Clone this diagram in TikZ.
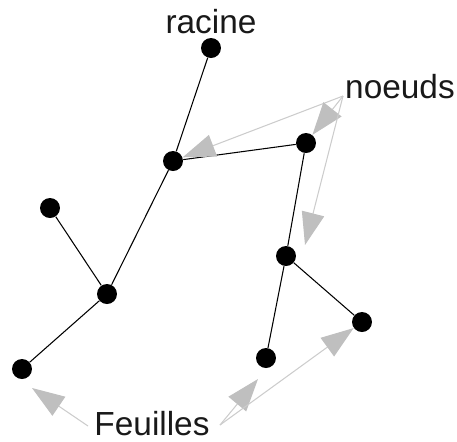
\documentclass[tikz,border=0pt]{standalone}
\usepackage{fontspec}
\setmainfont{Liberation Sans}
\usetikzlibrary{arrows.meta}

\begin{document}
\begin{tikzpicture}[x=0.02cm,y=-0.02cm,
dot/.style={circle,fill=black,inner sep=0pt,minimum size=0.4cm},
edge/.style={black,line width=0.6pt},
legende/.style={anchor=base,inner sep=0pt,text=black!90,font=\fontsize{19}{22}\selectfont},
pointer/.style={draw=black!20,line width=0.6pt,-{Triangle[length=18.5pt,width=13pt,color=black!25]}}]
\useasboundingbox (0,0) rectangle (457,441);
% arbre
\node[dot] (r) at (211,48) {};
\node[dot] (n1) at (173,161) {};
\node[dot] (n2) at (306,143) {};
\node[dot] (n3) at (107,294) {};
\node[dot] (n4) at (286,256) {};
\node[dot] (l1) at (50,208) {};
\node[dot] (l2) at (22,369) {};
\node[dot] (l3) at (266,358) {};
\node[dot] (l4) at (362,322) {};
\draw[edge] (r) -- (n1);
\draw[edge] (n1) -- (n2);
\draw[edge] (n1) -- (n3);
\draw[edge] (l1) -- (n3);
\draw[edge] (n3) -- (l2);
\draw[edge] (n2) -- (n4);
\draw[edge] (n4) -- (l3);
\draw[edge] (n4) -- (l4);
% legendes
\node[legende] (tracine) at (211,33) {racine};
\node[legende] (tnoeuds) at (400,98) {noeuds};
\node[legende] (tfeuilles) at (152,435) {Feuilles};
\coordinate (pn) at (343,96);
\coordinate (pf1) at (88,426);
\coordinate (pf2) at (220,425);
\coordinate (bn4) at (305,245);
\coordinate (bl2) at (32,388);
\coordinate (bl3) at (258,379);
\draw[pointer] (pn) -- (n1);
\draw[pointer] (pn) -- (n2);
\draw[pointer] (pn) -- (bn4);
\draw[pointer] (pf1) -- (bl2);
\draw[pointer] (pf2) -- (bl3);
\draw[pointer] (pf2) -- (l4);
\end{tikzpicture}
\end{document}
